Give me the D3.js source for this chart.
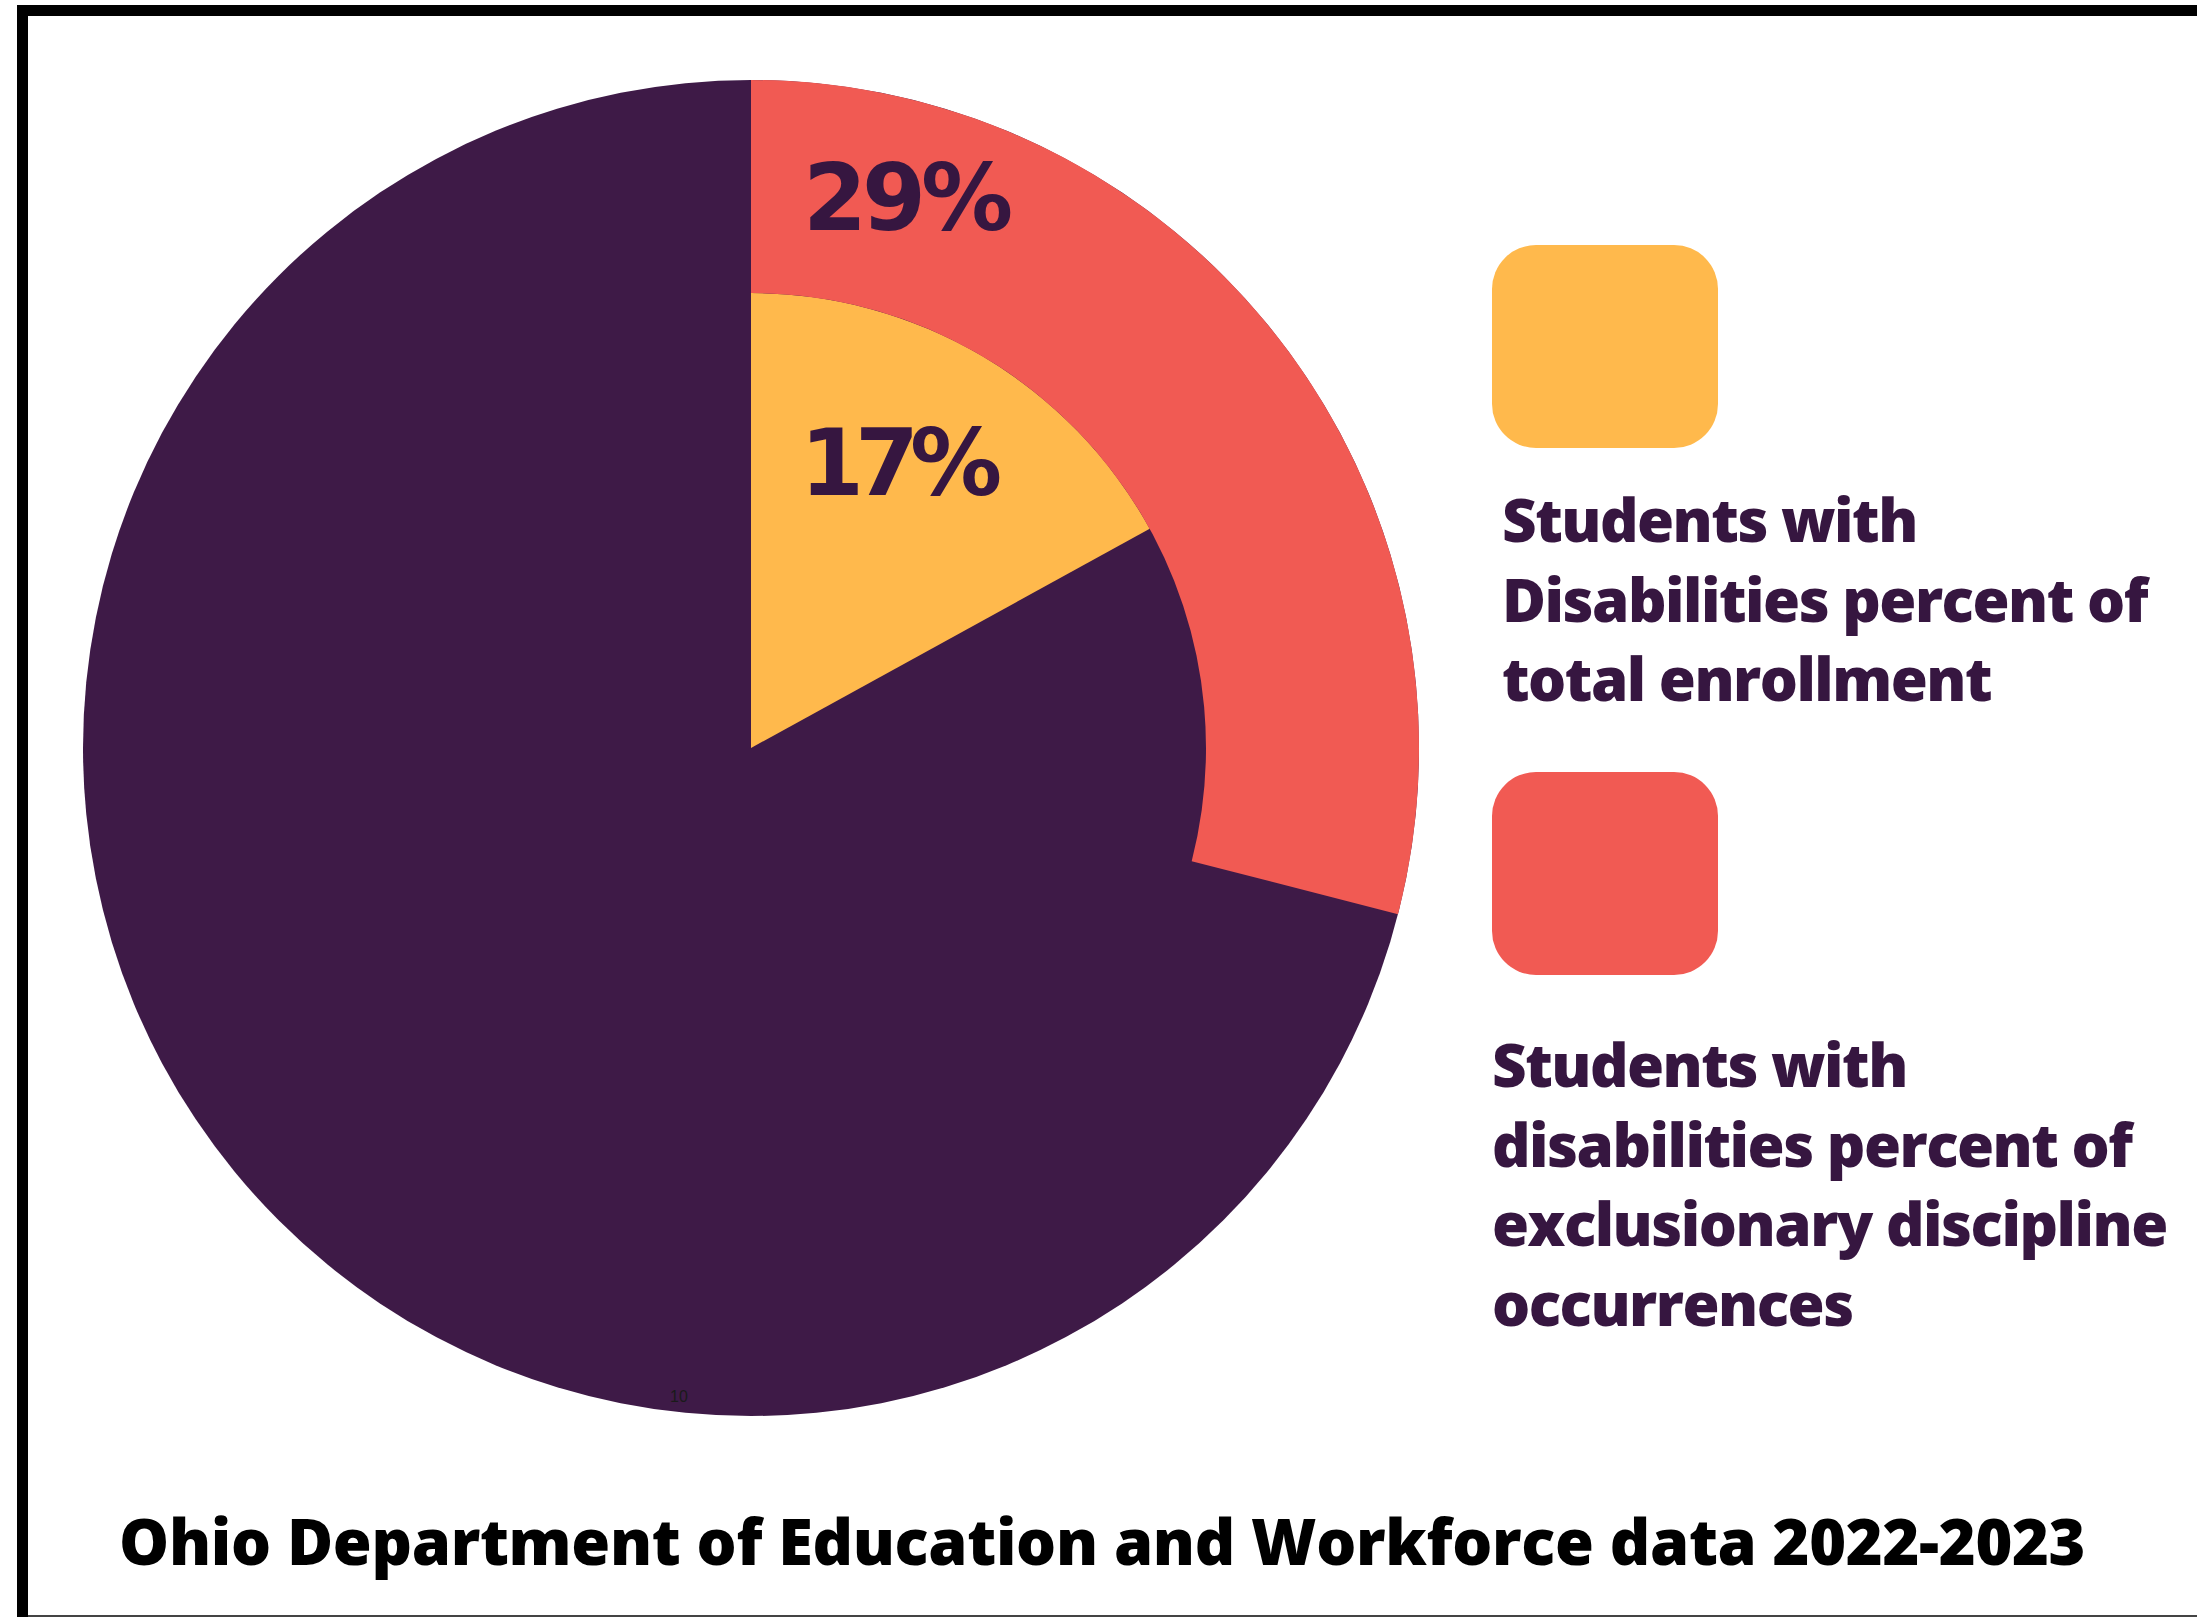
<!DOCTYPE html>
<html>
<head>
<meta charset="utf-8">
<script src="https://cdn.jsdelivr.net/npm/d3@7"></script>
<style>
  html, body { margin: 0; padding: 0; background: #fff; }
  svg { display: block; }
</style>
</head>
<body>
<div id="chart"></div>
<script>
// shares shown in the chart (percent)
const sliceNames = ['enrollment', 'discipline'];
const sliceValues = [17, 29];
const sliceColors = ['#ffb94c', '#f15a53'];
const sliceLabels = ['17%', '29%'];

const legendLines = [
  ['Students with', 'Disabilities percent of', 'total enrollment'],
  ['Students with', 'disabilities percent of', 'exclusionary discipline', 'occurrences']
];

const title = 'Ohio Department of Education and Workforce data 2022-2023';

const width = 2197, height = 1617;
const purple = '#3e1a47';
const textPurple = '#361640';

const svg = d3.select('#chart').append('svg')
  .attr('width', width)
  .attr('height', height);

svg.append('rect').attr('width', width).attr('height', height).attr('fill', '#fff');

// frame: top + left black bars, thin grey line at the bottom
svg.append('rect').attr('x', 17).attr('y', 5).attr('width', width - 17).attr('height', 11).attr('fill', '#000');
svg.append('rect').attr('x', 17).attr('y', 5).attr('width', 11).attr('height', height - 5).attr('fill', '#000');
svg.append('rect').attr('x', 28).attr('y', height - 2).attr('width', width - 28).attr('height', 2).attr('fill', '#444');

const cx = 751, cy = 748;
const outerR = 668, innerR = 455;

const angle = d3.scaleLinear().domain([0, 100]).range([0, 2 * Math.PI]);
const arc = d3.arc();

const g = svg.append('g').attr('transform', `translate(${cx},${cy})`);

// whole circle = everyone else
g.append('circle').attr('r', outerR).attr('fill', purple);

// inner wedge (enrollment) and outer band (discipline)
const radii = [[0, innerR], [innerR, outerR]];
g.selectAll('path.slice')
  .data(sliceValues)
  .join('path')
  .attr('class', 'slice')
  .attr('fill', (d, i) => sliceColors[i])
  .attr('d', (d, i) => arc({
    innerRadius: radii[i][0],
    outerRadius: radii[i][1],
    startAngle: 0,
    endAngle: angle(d)
  }));

// percent labels
const labelPos = [[49, -253], [52, -518]];
const labelSpacing = [-9, -5];
g.selectAll('text.pct')
  .data(sliceLabels)
  .join('text')
  .attr('class', 'pct')
  .attr('x', (d, i) => labelPos[i][0])
  .attr('y', (d, i) => labelPos[i][1])
  .attr('fill', textPurple)
  .style('font-family', '"DejaVu Sans", sans-serif')
  .style('font-weight', 'bold')
  .style('font-size', '92px')
  .style('letter-spacing', (d, i) => labelSpacing[i] + 'px')
  .text(d => d);

// stray tiny label near bottom of pie
svg.append('text')
  .attr('x', 670).attr('y', 1402)
  .attr('fill', '#1a1a1a')
  .style('font-family', '"Liberation Sans", Arial, sans-serif')
  .style('font-size', '16px')
  .text('10');

// legend
const legendBoxes = [{ x: 1492, y: 245 }, { x: 1492, y: 772 }];
const legendText = [{ x: 1502, y: 542 }, { x: 1492, y: 1087 }];
const lineH = 79.5;

legendBoxes.forEach((b, i) => {
  svg.append('rect')
    .attr('x', b.x).attr('y', b.y)
    .attr('width', 226).attr('height', 203)
    .attr('rx', 44).attr('ry', 44)
    .attr('fill', sliceColors[i]);

  const t = svg.append('text')
    .attr('fill', textPurple)
    .style('font-family', '"Open Sans", sans-serif')
    .style('font-weight', 800)
    .style('font-size', '60px')
    .style('letter-spacing', '-1.5px');
  t.selectAll('tspan')
    .data(legendLines[i])
    .join('tspan')
    .attr('x', legendText[i].x)
    .attr('y', (d, j) => legendText[i].y + j * lineH)
    .text(d => d);
});

svg.append('text')
  .attr('x', 119).attr('y', 1565)
  .attr('fill', '#000')
  .style('font-family', '"Open Sans", sans-serif')
  .style('font-weight', 800)
  .style('font-size', '63px')
  .style('letter-spacing', '-0.3px')
  .text(title);
</script>
</body>
</html>
